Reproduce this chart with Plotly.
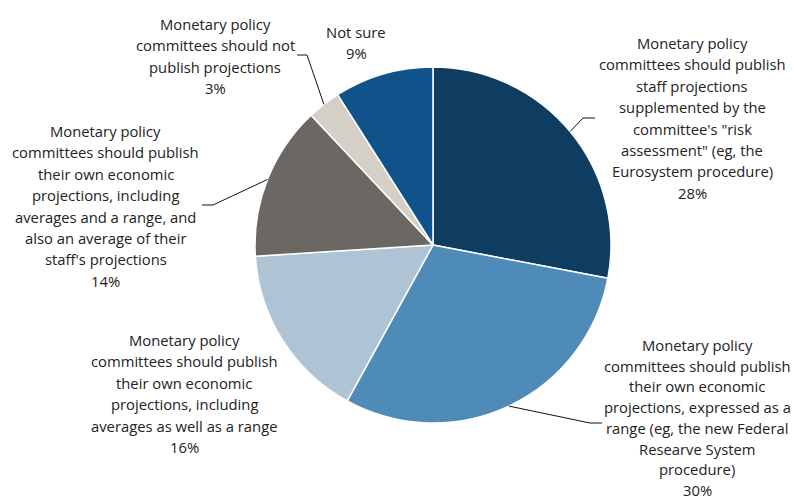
import math
import plotly.graph_objects as go

# Survey responses (share of respondents, %)
labels = [
    "Monetary policy committees should publish staff projections supplemented by the committee's \"risk assessment\" (eg, the Eurosystem procedure)",
    "Monetary policy committees should publish their own economic projections, expressed as a range (eg, the new Federal Researve System procedure)",
    "Monetary policy committees should publish their own economic projections, including averages as well as a range",
    "Monetary policy committees should publish their own economic projections, including averages and a range, and also an average of their staff's projections",
    "Monetary policy committees should not publish projections",
    "Not sure",
]
values = [28, 30, 16, 14, 3, 9]
colors = ["#0f3d62", "#4f8bb8", "#aec3d3", "#6b6763", "#d4d0c6", "#10538a"]

# Label text broken into display lines
label_lines = [
    ["Monetary policy", "committees should publish", "staff projections",
     "supplemented by the", "committee's \"risk", "assessment\" (eg, the",
     "Eurosystem procedure)"],
    ["Monetary policy", "committees should publish", "their own economic",
     "projections, expressed as a", "range (eg, the new Federal",
     "Researve System", "procedure)"],
    ["Monetary policy", "committees should publish", "their own economic",
     "projections, including", "averages as well as a range"],
    ["Monetary policy", "committees should publish", "their own economic",
     "projections, including", "averages and a range, and",
     "also an average of their", "staff's projections"],
    ["Monetary policy", "committees should not", "publish projections"],
    ["Not sure"],
]

W, H = 794, 503
CX, CY, R = 433, 245, 178          # pie centre and radius in pixels

# Label block anchors: (centre x, first line y, line step) and leader elbow points
label_pos = [(692, 43, 21.4), (697, 345, 20.7), (184, 340, 21.4),
             (106, 131, 21.4), (215, 24, 21.4), (356, 32, 21.4)]
elbows = [
    [(583, 118), (595, 118)],
    [(590, 423), (602, 423)],
    None,
    [(213, 205), (202, 205)],
    [(307, 55), (297, 55)],
    None,
]

FONT = dict(family="Open Sans, sans-serif", size=14.8, color="#222222")


def px(x, y):
    return x / W, 1 - y / H


fig = go.Figure(go.Pie(
    labels=labels,
    values=values,
    sort=False,
    direction="clockwise",
    rotation=0,
    marker=dict(colors=colors, line=dict(color="white", width=1.5)),
    textinfo="none",
    hoverinfo="label+percent",
    showlegend=False,
    domain=dict(x=[(CX - R) / W, (CX + R) / W], y=[1 - (CY + R) / H, 1 - (CY - R) / H]),
))

annotations = []
shapes = []
total = sum(values)
cum = 0
for i, v in enumerate(values):
    mid = (cum + v / 2) / total * 2 * math.pi
    cum += v
    lines = label_lines[i] + [f"{round(v / total * 100)}%"]
    lx, ly, step = label_pos[i]
    for k, t in enumerate(lines):
        x, y = px(lx, ly + k * step)
        annotations.append(dict(
            x=x, y=y, xref="paper", yref="paper", text=t, showarrow=False,
            xanchor="center", yanchor="middle", font=FONT,
        ))
    if elbows[i]:
        sx, sy = CX + R * math.sin(mid), CY - R * math.cos(mid)
        pts = [(sx, sy)] + elbows[i]
        path = "M " + " L ".join(f"{px(a, b)[0]},{px(a, b)[1]}" for a, b in pts)
        shapes.append(dict(type="path", path=path, xref="paper", yref="paper",
                           line=dict(color="#111111", width=1)))

fig.update_layout(
    width=W, height=H,
    margin=dict(l=0, r=0, t=0, b=0),
    paper_bgcolor="white",
    plot_bgcolor="white",
    annotations=annotations,
    shapes=shapes,
)

fig.write_html("out.html")
